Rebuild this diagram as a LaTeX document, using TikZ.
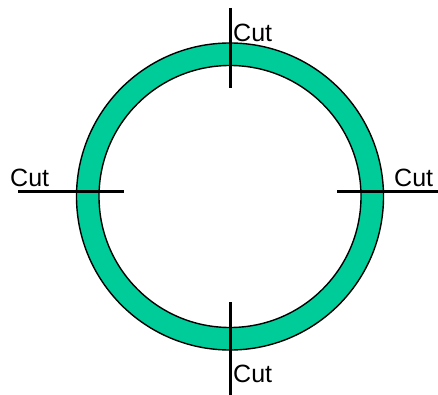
\documentclass[tikz,border=0pt]{standalone}
\usepackage{fontspec}
\setmainfont{Liberation Sans}
\definecolor{ringgreen}{RGB}{0,204,153}
\begin{document}
\begin{tikzpicture}[x=1pt,y=-1pt,
  cutline/.style={line width=3pt},
  cutlabel/.style={inner sep=0pt,anchor=base west,font=\fontsize{25}{30}\selectfont}]
\useasboundingbox (0,0) rectangle (438,395);
\coordinate (c) at (230,196.5);
\fill[ringgreen,even odd rule] (c) circle[radius=153.5] (c) circle[radius=131];
\draw[line width=1.4pt] (c) circle[radius=153.5];
\draw[line width=1.4pt] (c) circle[radius=131];
% cut lines
\coordinate (t1) at (230,8);   \coordinate (t2) at (230,88);
\coordinate (l1) at (18,191);  \coordinate (l2) at (124,191);
\coordinate (r1) at (337,191); \coordinate (r2) at (438,191);
\coordinate (b1) at (230,302); \coordinate (b2) at (230,395);
\draw[cutline] (t1) -- (t2);
\draw[cutline] (l1) -- (l2);
\draw[cutline] (r1) -- (r2);
\draw[cutline] (b1) -- (b2);
% labels
\node[cutlabel] (ct) at (233,42) {Cut};
\node[cutlabel] (cl) at (10,186) {Cut};
\node[cutlabel] (cr) at (394,186) {Cut};
\node[cutlabel] (cb) at (233,382) {Cut};
\end{tikzpicture}
\end{document}
